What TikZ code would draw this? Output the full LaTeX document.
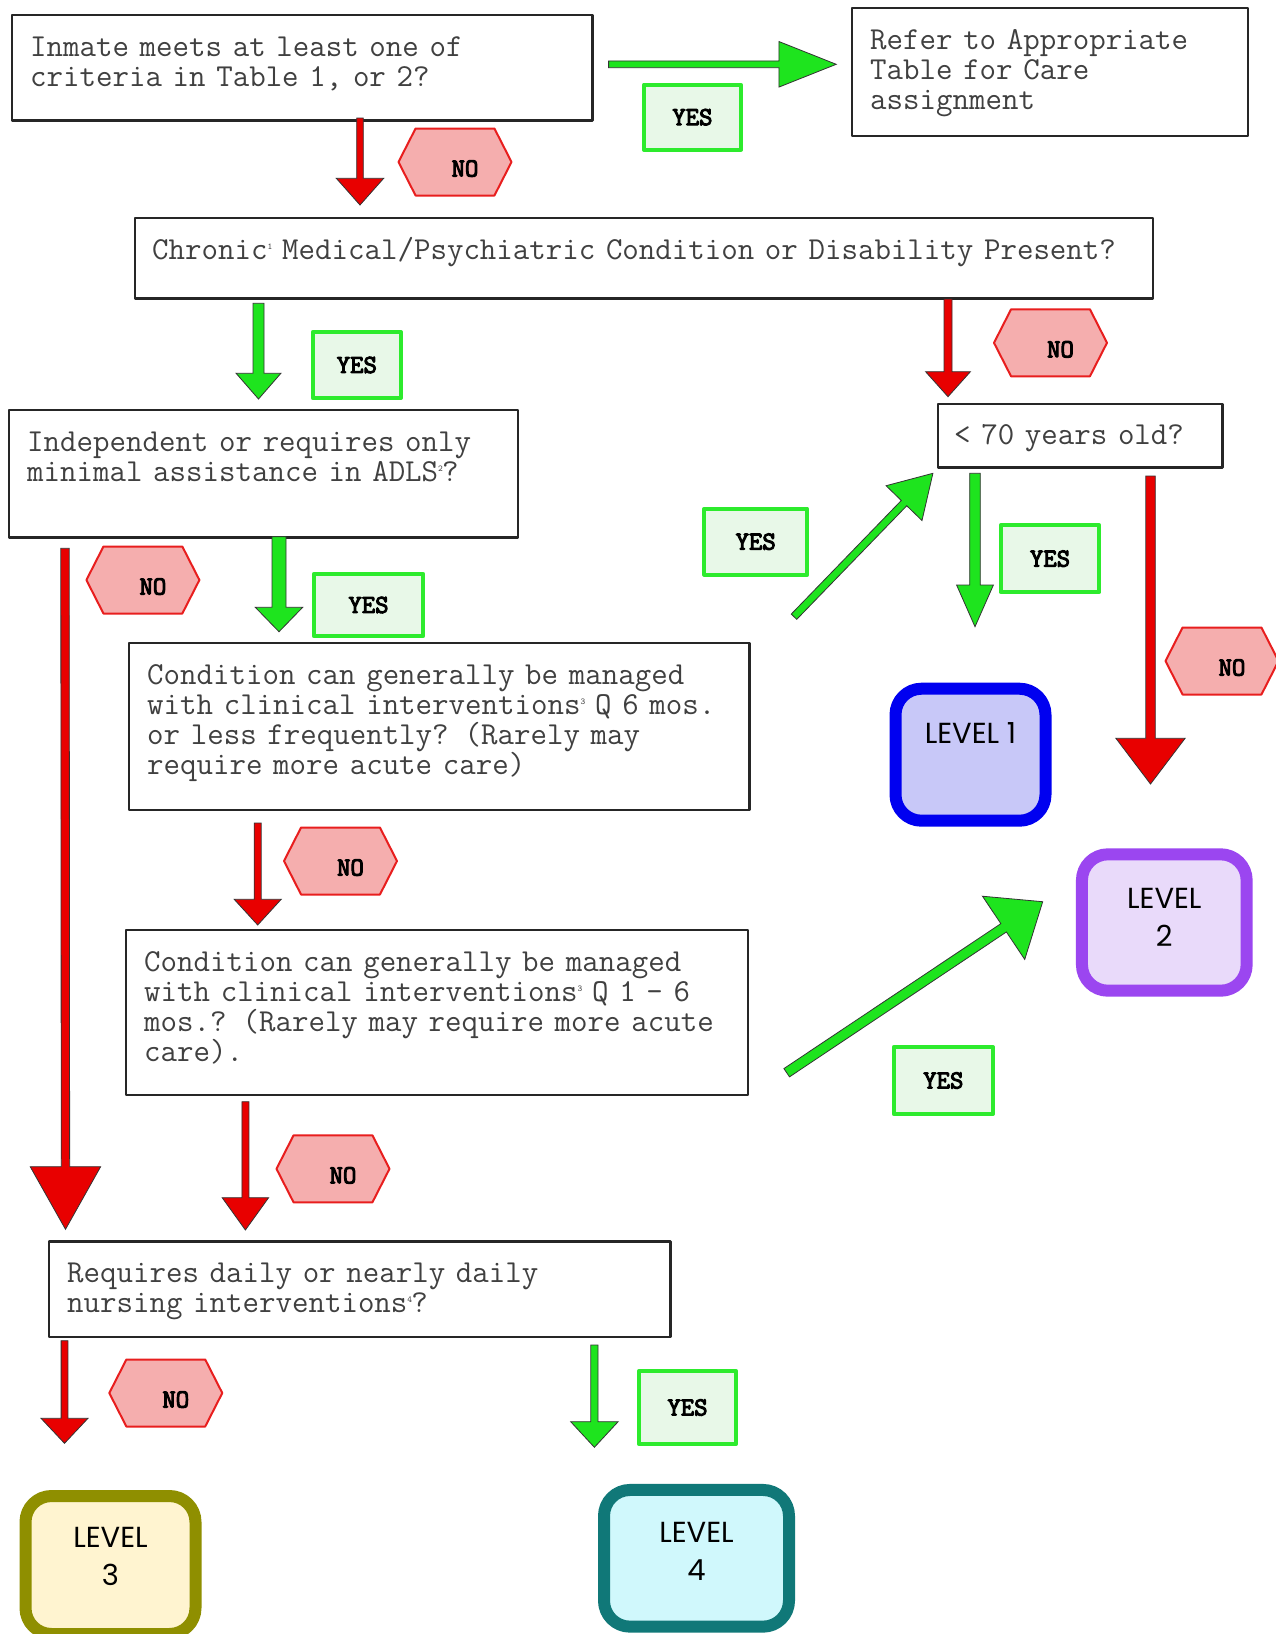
\documentclass[tikz,border=0pt]{standalone}
\usepackage{fontspec}
\usetikzlibrary{calc, shapes.symbols}

\newfontfamily\boxfamily{Latin Modern Mono}
\newfontfamily\lblfamily{Latin Modern Mono}[AutoFakeBold=4]
\newfontfamily\levelfamily{Poppins}

\definecolor{arrgreen}{RGB}{30,228,30}
\definecolor{arrred}{RGB}{232,0,0}
\definecolor{yesline}{RGB}{45,235,45}
\definecolor{yesfill}{RGB}{232,248,232}
\definecolor{noline}{RGB}{232,30,30}
\definecolor{nofill}{RGB}{245,174,174}
\definecolor{lvAline}{RGB}{0,0,240}
\definecolor{lvAfill}{RGB}{200,200,248}
\definecolor{lvBline}{RGB}{155,70,240}
\definecolor{lvBfill}{RGB}{233,218,250}
\definecolor{lvCline}{RGB}{143,143,0}
\definecolor{lvCfill}{RGB}{255,244,208}
\definecolor{lvDline}{RGB}{16,120,120}
\definecolor{lvDfill}{RGB}{208,248,252}

\newcommand{\boxfont}{\fontsize{32pt}{30pt}\selectfont\boxfamily}
\newcommand{\lblfont}{\fontsize{26pt}{26pt}\selectfont\lblfamily\bfseries}
\newcommand{\levelfont}{\fontsize{29pt}{38pt}\selectfont\levelfamily}
\newcommand{\fnmark}[1]{\raisebox{10pt}{\makebox[4pt][l]{\fontsize{9pt}{9pt}\selectfont #1}}}
\newcommand{\levelstack}[2][6pt]{\raisebox{#1}[\height][\depth]{\begin{tabular}{@{}c@{}}LEVEL\\#2\end{tabular}}}

% block arrow: fill, from, to, half shaft, head length, half head
\newcommand{\blkarrow}[6]{%
  \coordinate (hb) at ($(#3)!#5!(#2)$);
  \filldraw[fill=#1, draw=black!80, line width=0.8pt, line join=miter]
    ($(#2)!#4!90:(#3)$) -- ($(hb)!#4!90:(#3)$) -- ($(hb)!#6!90:(#3)$) -- (#3)
    -- ($(hb)!#6!-90:(#3)$) -- ($(hb)!#4!-90:(#3)$) -- ($(#2)!#4!-90:(#3)$) -- cycle;
}

\begin{document}
\begin{tikzpicture}[x=1pt, y=-1pt, line join=round,
    box/.style={draw=black!85, line width=2.2pt, inner sep=0pt, outer sep=0pt, anchor=north west},
    boxtext/.style={anchor=base west, inner sep=0pt, text width=1100pt, align=left, font=\boxfont, text=black!75},
    yeslbl/.style={draw=yesline, fill=yesfill, line width=4pt, inner sep=0pt, font=\lblfont},
    nohex/.style={shape=signal, signal to=east and west, signal pointer angle=126,
      draw=noline, fill=nofill, line width=2pt, inner sep=0pt, minimum width=113pt,
      minimum height=67pt, font=\lblfont, text height=29pt, text depth=0pt},
    level/.style={rounded corners=26pt, line width=12pt, inner sep=0pt, align=center, font=\levelfont}]

  \useasboundingbox (0,0) rectangle (1276,1634);
  \fill[white] (0,0) rectangle (1276,1634);

  %% ---- question boxes ----
  \node[box, minimum width=580.5pt, minimum height=105.5pt] (crit)   at (12,15) {};
  \node[box, minimum width=396pt,   minimum height=128pt]   (refer)  at (852,8) {};
  \node[box, minimum width=1018pt,  minimum height=80.5pt]  (chron)  at (135,218) {};
  \node[box, minimum width=509pt,   minimum height=127.5pt] (indep)  at (9,410) {};
  \node[box, minimum width=284.5pt, minimum height=63.5pt]  (age)    at (938,404) {};
  \node[box, minimum width=620.5pt, minimum height=167pt]   (freqA)  at (129,643) {};
  \node[box, minimum width=622pt,   minimum height=165pt]   (freqB)  at (126,930) {};
  \node[box, minimum width=621.5pt, minimum height=95.5pt]  (nurse)  at (49,1241.5) {};

  %% ---- question texts ----
  \node[boxtext] (critT)  at ($(crit.north west)+(18,41)$)  {Inmate meets at least one of\\criteria in Table 1, or 2?};
  \node[boxtext] (referT) at ($(refer.north west)+(18,41)$) {Refer to Appropriate\\Table for Care\\assignment};
  \node[boxtext] (chronT) at ($(chron.north west)+(17,41)$) {Chronic\fnmark{1} Medical/Psychiatric Condition or Disability Present?};
  \node[boxtext] (indepT) at ($(indep.north west)+(18,41)$) {Independent or requires only\\minimal assistance in ADLS\fnmark{2}?};
  \node[boxtext] (ageT)   at ($(age.north west)+(16,40)$)   {< 70 years old?};
  \node[boxtext] (freqAT) at ($(freqA.north west)+(18,41)$) {Condition can generally be managed\\with clinical interventions\fnmark{3} Q 6 mos.\\or less frequently? (Rarely may\\require more acute care)};
  \node[boxtext] (freqBT) at ($(freqB.north west)+(18,41)$) {Condition can generally be managed\\with clinical interventions\fnmark{3} Q 1 - 6\\mos.? (Rarely may require more acute\\care).};
  \node[boxtext] (nurseT) at ($(nurse.north west)+(18,41)$) {Requires daily or nearly daily\\nursing interventions\fnmark{4}?};

  %% ---- level boxes ----
  \node[level, draw=lvAline, fill=lvAfill, minimum width=150pt, minimum height=132pt,
        text height=20pt, text depth=43pt] (lvA) at (970.5,754.7) {LEVEL 1};
  \node[level, draw=lvBline, fill=lvBfill, minimum width=164.7pt, minimum height=136.4pt] (lvB) at (1164.3,922.5) {\levelstack[3pt]{2}};
  \node[level, draw=lvCline, fill=lvCfill, minimum width=170pt, minimum height=138pt] (lvC) at (110.5,1565) {\levelstack{3}};
  \node[level, draw=lvDline, fill=lvDfill, minimum width=185pt, minimum height=136.7pt] (lvD) at (696.5,1558.3) {\levelstack[4pt]{4}};

  %% ---- arrow end points ----
  \coordinate (a1s) at (608.6,64.3);   \coordinate (a1e) at (836.2,64.3);
  \coordinate (a2s) at (360,118);      \coordinate (a2e) at (360,205);
  \coordinate (a3s) at (258.5,303.3);  \coordinate (a3e) at (258.5,399);
  \coordinate (a4s) at (948,299);      \coordinate (a4e) at (948,396.7);
  \coordinate (a5s) at (65,548.3);     \coordinate (a5e) at (65.5,1229.3);
  \coordinate (a6s) at (279,536.7);    \coordinate (a6e) at (279,631.7);
  \coordinate (a7s) at (794,616.7);    \coordinate (a7e) at (932.9,473.3);
  \coordinate (a8s) at (975,473.3);    \coordinate (a8e) at (975,626.7);
  \coordinate (a9s) at (1150.5,476);   \coordinate (a9e) at (1150.5,784);
  \coordinate (a10s) at (257.7,823);   \coordinate (a10e) at (257.7,925);
  \coordinate (a11s) at (245.4,1101.7); \coordinate (a11e) at (245.4,1230);
  \coordinate (a12s) at (786.7,1072.7); \coordinate (a12e) at (1042.7,901.7);
  \coordinate (a13s) at (64.5,1340.7); \coordinate (a13e) at (64.5,1443.3);
  \coordinate (a14s) at (594.4,1345);  \coordinate (a14e) at (594.4,1447.3);

  %% ---- yes arrows ----
  \blkarrow{arrgreen}{a1s}{a1e}{3.4pt}{57.3pt}{22.8pt}
  \blkarrow{arrgreen}{a3s}{a3e}{5.5pt}{25.7pt}{22.4pt}
  \blkarrow{arrgreen}{a6s}{a6e}{7pt}{24.4pt}{23.7pt}
  \blkarrow{arrgreen}{a7s}{a7e}{3.8pt}{41.5pt}{25pt}
  \blkarrow{arrgreen}{a8s}{a8e}{5.3pt}{41.7pt}{18.4pt}
  \blkarrow{arrgreen}{a12s}{a12e}{5pt}{47pt}{38pt}
  \blkarrow{arrgreen}{a14s}{a14e}{3.6pt}{25.6pt}{23.7pt}

  %% ---- no arrows ----
  \blkarrow{arrred}{a2s}{a2e}{3.3pt}{26.7pt}{23.7pt}
  \blkarrow{arrred}{a4s}{a4e}{4pt}{25pt}{22.4pt}
  \blkarrow{arrred}{a5s}{a5e}{4.2pt}{62.6pt}{35.2pt}
  \blkarrow{arrred}{a9s}{a9e}{4.75pt}{45.7pt}{34.6pt}
  \blkarrow{arrred}{a10s}{a10e}{3.5pt}{25.7pt}{23.5pt}
  \blkarrow{arrred}{a11s}{a11e}{3.5pt}{32.3pt}{23.2pt}
  \blkarrow{arrred}{a13s}{a13e}{3.4pt}{25pt}{23.5pt}

  %% ---- YES labels ----
  \node[yeslbl, minimum width=97pt,   minimum height=65pt]   (yesA) at (692.4,117.2)  {YES};
  \node[yeslbl, minimum width=88pt,   minimum height=66pt]   (yesB) at (356.8,365)    {YES};
  \node[yeslbl, minimum width=109pt,  minimum height=62.6pt] (yesC) at (368.5,605)    {YES};
  \node[yeslbl, minimum width=103pt,  minimum height=66pt]   (yesD) at (755.7,541.7)  {YES};
  \node[yeslbl, minimum width=98.7pt, minimum height=66.7pt] (yesE) at (1050,558.7)   {YES};
  \node[yeslbl, minimum width=97.6pt, minimum height=72.4pt] (yesF) at (687.5,1407.5) {YES};
  \node[yeslbl, minimum width=99pt,   minimum height=67pt]   (yesG) at (943.3,1080.5) {YES};

  %% ---- NO labels ----
  \node[nohex] (noA) at (455,162)      {\hspace*{20pt}NO};
  \node[nohex] (noB) at (1050.5,342.8) {\hspace*{20pt}NO};
  \node[nohex] (noC) at (142.9,580)    {\hspace*{20pt}NO};
  \node[nohex] (noD) at (1222,661)     {\hspace*{20pt}NO};
  \node[nohex] (noE) at (340.5,861)    {\hspace*{20pt}NO};
  \node[nohex] (noF) at (333,1168.8)   {\hspace*{20pt}NO};
  \node[nohex] (noG) at (165.8,1393)   {\hspace*{20pt}NO};

\end{tikzpicture}
\end{document}
